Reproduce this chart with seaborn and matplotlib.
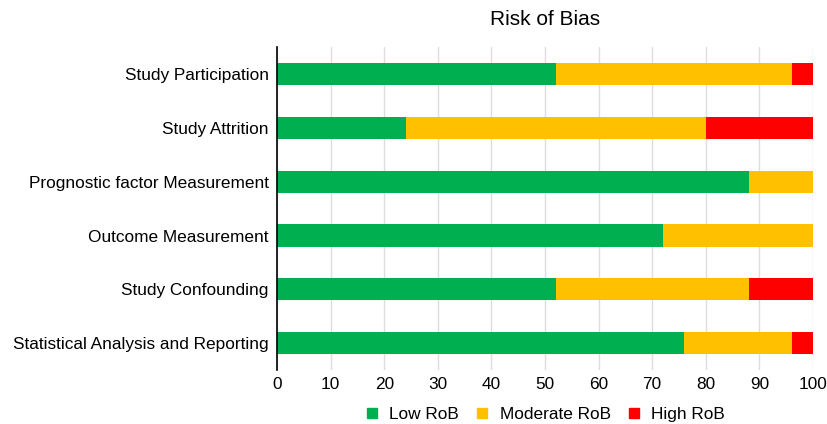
import numpy as np
import pandas as pd
import matplotlib
matplotlib.use("Agg")
import matplotlib.pyplot as plt
import seaborn as sns
from matplotlib.lines import Line2D

domains = [
    "Study Participation",
    "Study Attrition",
    "Prognostic factor Measurement",
    "Outcome Measurement",
    "Study Confounding",
    "Statistical Analysis and Reporting",
]
low_rob = [52, 24, 88, 72, 52, 76]
moderate_rob = [44, 56, 12, 28, 36, 20]
high_rob = [4, 20, 0, 0, 12, 4]

series_names = ["Low RoB", "Moderate RoB", "High RoB"]
colors = ["#00AF50", "#FFC000", "#FF0000"]

sns.set_theme(style="white")
plt.rcParams["font.family"] = ["Liberation Sans", "DejaVu Sans"]
plt.rcParams["text.color"] = "#000000"

FS = 12.4

fig = plt.figure(figsize=(8.27, 4.24), dpi=100)
ax = fig.add_axes([0.335, 0.127, 0.648, 0.762])

low = np.array(low_rob, dtype=float)
mod = np.array(moderate_rob, dtype=float)
high = np.array(high_rob, dtype=float)
# cumulative right edges of each stacked segment, drawn back to front
layers = [low + mod + high, low + mod, low]
layer_colors = [colors[2], colors[1], colors[0]]
for edges, c in zip(layers, layer_colors):
    df = pd.DataFrame({"domain": domains, "value": edges})
    sns.barplot(data=df, x="value", y="domain", orient="h", color=c,
                width=0.41, saturation=1, ax=ax, linewidth=0, zorder=3)

ax.set_xlim(0, 100)
ax.set_ylim(5.5, -0.5)
ax.set_xticks(np.arange(0, 101, 10))
ax.set_xlabel("")
ax.set_ylabel("")
ax.tick_params(axis="both", length=0, labelsize=FS, colors="#000000")
ax.tick_params(axis="x", pad=5)
ax.tick_params(axis="y", pad=6)
ax.grid(axis="x", color="#dddddd", linewidth=1, zorder=0)
ax.set_axisbelow(True)
for s in ["top", "right", "bottom"]:
    ax.spines[s].set_visible(False)
ax.spines["left"].set_color("#000000")
ax.spines["left"].set_linewidth(1.2)
ax.spines["left"].set_zorder(5)

ax.set_title("Risk of Bias", fontsize=15, pad=16, color="#000000")

handles = [Line2D([], [], marker="s", linestyle="none", markersize=7.5,
                  markerfacecolor=c, markeredgecolor=c) for c in colors]
fig.legend(handles, series_names, loc="center", ncol=3,
           bbox_to_anchor=(545 / 827, 1 - 414 / 424), frameon=False,
           fontsize=FS, handlelength=0.8, handletextpad=0.6,
           columnspacing=0.95, borderpad=0, borderaxespad=0,
           labelcolor="#000000")

fig.savefig("out.png", dpi=100, facecolor="white")
